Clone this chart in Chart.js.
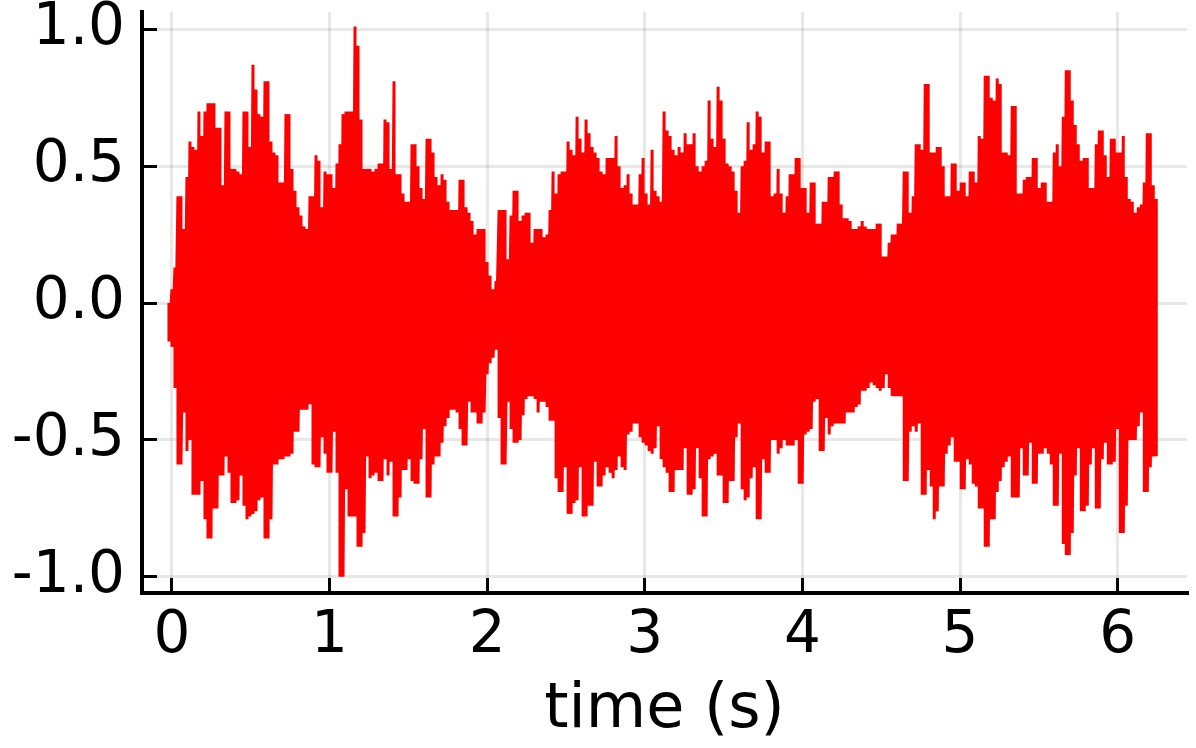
<!DOCTYPE html>
<html>
<head>
<meta charset="utf-8">
<script src="https://cdn.jsdelivr.net/npm/chart.js@4"></script>
<style>
  html, body { margin: 0; padding: 0; background: #fff; }
  #wrap { width: 1196px; height: 748px; }
</style>
</head>
<body>
<div id="wrap"><canvas id="waveChart" width="1196" height="748"></canvas></div>
<script>
// waveform, one peak and one trough per sample column
const startTime = -0.019;
const sampleStep = 0.01904;

const peaks = [
  0.00,
  .05,.13,.39,.39,.27,.46,.59,.57,.56,.70,.61,.70,.73,.73,.73,.64,.64,.43,.70,.70,
  .49,.49,.48,.47,.70,.70,.57,.87,.78,.69,.68,.81,.81,.59,.55,.54,.44,.44,.69,.69,
  .49,.41,.35,.32,.28,.27,.39,.39,.54,.52,.35,.48,.47,.47,.42,.51,.58,.69,.70,.70,
  .70,1.01,.94,.67,.49,.49,.49,.48,.49,.51,.51,.67,.66,.49,.81,.47,.47,.40,.37,.37,
  .58,.58,.50,.42,.38,.60,.60,.55,.46,.43,.47,.45,.37,.34,.34,.34,.45,.45,.35,.33,
  .30,.25,.27,.27,.27,.15,.10,.05,.08,
  .34,.34,.34,.16,.32,.41,.41,.30,.32,.33,.33,.22,.27,.27,.27,.24,.25,.34,.48,.40,
  .47,.48,.48,.59,.56,.54,.68,.60,.55,.67,.62,.57,.55,.53,.48,.47,.53,.53,.53,.61,
  .50,.42,.43,.47,.40,.36,.36,.47,.53,.40,.36,.56,.41,.39,.37,.70,.63,.61,.56,.54,
  .57,.55,.62,.58,.58,.62,.50,.48,.50,.52,.74,.60,.57,.79,.74,.60,.51,.50,.48,.41,
  .33,.50,.52,.66,.56,.58,.70,.68,.55,.59,.59,.39,.40,.49,.40,.33,.39,.47,.47,.53,
  .53,.42,.42,.33,.44,.44,.29,.29,.37,.37,.46,.46,.48,.48,
  .36,.31,.31,.30,.27,.27,.28,.30,.28,.27,.27,.27,.29,.29,.17,.17,.22,.25,.25,.29,
  .29,.48,.48,.33,.39,.58,.58,.56,.80,.80,.55,.55,.57,.57,.50,.39,.39,.51,.51,.41,
  .44,.44,.39,.48,.48,.44,.61,.60,.83,.83,.75,.74,.82,.80,.55,.55,.54,.72,.72,.40,
  .40,.45,.46,.46,.53,.53,.42,.44,.44,.37,.37,.55,.58,.50,.68,.85,.85,.74,.65,.58,
  .52,.53,.53,.42,.42,.58,.63,.63,.54,.46,.60,.60,.55,.55,.61,.46,.38,.37,.33,.35,
  .36,.44,.62,.62,.43,.38
];

const troughs = [
  -.14,
  -.16,-.31,-.59,-.59,-.40,-.54,-.50,-.70,-.70,-.70,-.65,-.79,-.86,-.86,-.75,-.75,-.63,-.63,-.56,-.62,
  -.73,-.73,-.72,-.63,-.74,-.79,-.78,-.77,-.76,-.72,-.71,-.86,-.86,-.79,-.59,-.59,-.57,-.57,-.56,-.56,
  -.55,-.47,-.47,-.39,-.39,-.39,-.37,-.59,-.60,-.60,-.49,-.55,-.62,-.62,-.47,-.62,-1.0,-1.0,-.68,-.78,
  -.78,-.78,-.89,-.89,-.84,-.56,-.64,-.63,-.62,-.65,-.65,-.57,-.63,-.58,-.78,-.78,-.71,-.61,-.61,-.57,
  -.65,-.66,-.66,-.57,-.46,-.71,-.71,-.59,-.56,-.56,-.51,-.45,-.42,-.39,-.39,-.40,-.46,-.52,-.52,-.36,
  -.40,-.40,-.44,-.44,-.40,-.26,-.22,-.20,-.17,
  -.42,-.59,-.59,-.36,-.46,-.51,-.51,-.50,-.41,-.35,-.34,-.34,-.35,-.40,-.36,-.36,-.38,-.43,-.43,-.64,
  -.69,-.69,-.60,-.77,-.77,-.73,-.72,-.60,-.78,-.78,-.74,-.74,-.58,-.67,-.67,-.63,-.60,-.62,-.64,-.61,
  -.56,-.60,-.61,-.48,-.47,-.44,-.44,-.49,-.51,-.52,-.54,-.55,-.53,-.45,-.57,-.60,-.62,-.69,-.69,-.61,
  -.61,-.61,-.53,-.70,-.70,-.68,-.53,-.64,-.78,-.78,-.57,-.56,-.55,-.63,-.63,-.73,-.73,-.65,-.65,-.49,
  -.44,-.68,-.72,-.71,-.64,-.60,-.79,-.79,-.57,-.62,-.62,-.50,-.50,-.55,-.53,-.50,-.52,-.52,-.52,-.50,
  -.66,-.66,-.48,-.47,-.46,-.36,-.35,-.54,-.54,-.42,-.48,-.45,-.44,-.44,
  -.44,-.44,-.40,-.40,-.40,-.38,-.37,-.32,-.32,-.31,-.29,-.30,-.31,-.32,-.31,-.26,-.31,-.34,-.34,-.34,
  -.34,-.65,-.65,-.47,-.45,-.47,-.44,-.70,-.70,-.61,-.67,-.79,-.76,-.67,-.67,-.55,-.52,-.49,-.58,-.58,
  -.68,-.68,-.57,-.59,-.66,-.67,-.75,-.75,-.89,-.89,-.79,-.79,-.69,-.65,-.60,-.58,-.56,-.71,-.71,-.71,
  -.53,-.63,-.63,-.51,-.66,-.66,-.55,-.55,-.53,-.55,-.59,-.74,-.74,-.55,-.88,-.92,-.92,-.84,-.63,-.53,
  -.76,-.76,-.74,-.59,-.53,-.75,-.75,-.57,-.51,-.59,-.59,-.58,-.46,-.84,-.84,-.74,-.50,-.50,-.50,-.45,
  -.40,-.69,-.69,-.60,-.56,-.56
];

const xTicks = [0, 1, 2, 3, 4, 5, 6];
const yTicks = [-1.0, -0.5, 0.0, 0.5, 1.0];

// signal goes up and down once per column
const wavePoints = [];
peaks.forEach((p, i) => {
  const t = startTime + i * sampleStep;
  wavePoints.push({ x: t, y: p });
  wavePoints.push({ x: t, y: troughs[i] });
});

const tickFont = { family: "'DejaVu Sans'", size: 58 };
const titleFont = { family: "'DejaVu Sans'", size: 62 };

new Chart(document.getElementById("waveChart").getContext("2d"), {
  type: "scatter",
  data: {
    datasets: [
      {
        data: wavePoints,
        showLine: true,
        borderColor: "#ff0000",
        borderWidth: 3,
        borderJoinStyle: "bevel",
        pointRadius: 0,
        tension: 0,
      },
    ],
  },
  options: {
    responsive: false,
    animation: false,
    layout: { padding: { top: 12, right: 9 } },
    plugins: { legend: { display: false }, tooltip: { enabled: false } },
    scales: {
      x: {
        type: "linear",
        min: -0.19,
        max: 6.44,
        // keep the plot area where the reference has it, big labels may overhang
        afterFit: (scale) => {
          scale.height = 155;
          scale.paddingLeft = 0;
          scale.paddingRight = 0;
        },
        afterBuildTicks: (scale) => { scale.ticks = xTicks.map((v) => ({ value: v })); },
        border: { color: "#000", width: 4 },
        grid: { color: "rgba(0,0,0,0.09)", lineWidth: 3, tickColor: "#000", tickWidth: 3, tickLength: -15 },
        ticks: {
          color: "#000",
          font: tickFont,
          padding: 24,
          maxRotation: 0,
          callback: (v) => String(v),
        },
        title: {
          display: true,
          text: "time (s)",
          color: "#000",
          font: titleFont,
          padding: { top: 0, bottom: 0 },
        },
      },
      y: {
        min: -1.059,
        max: 1.063,
        afterFit: (scale) => {
          scale.width = 142;
          scale.paddingTop = 0;
          scale.paddingBottom = 0;
        },
        afterBuildTicks: (scale) => { scale.ticks = yTicks.map((v) => ({ value: v })); },
        border: { color: "#000", width: 4 },
        grid: { color: "rgba(0,0,0,0.09)", lineWidth: 3, tickColor: "#000", tickWidth: 3, tickLength: -15 },
        ticks: {
          color: "#000",
          font: tickFont,
          padding: 32,
          callback: (v) => v.toFixed(1),
        },
      },
    },
  },
});
</script>
</body>
</html>
